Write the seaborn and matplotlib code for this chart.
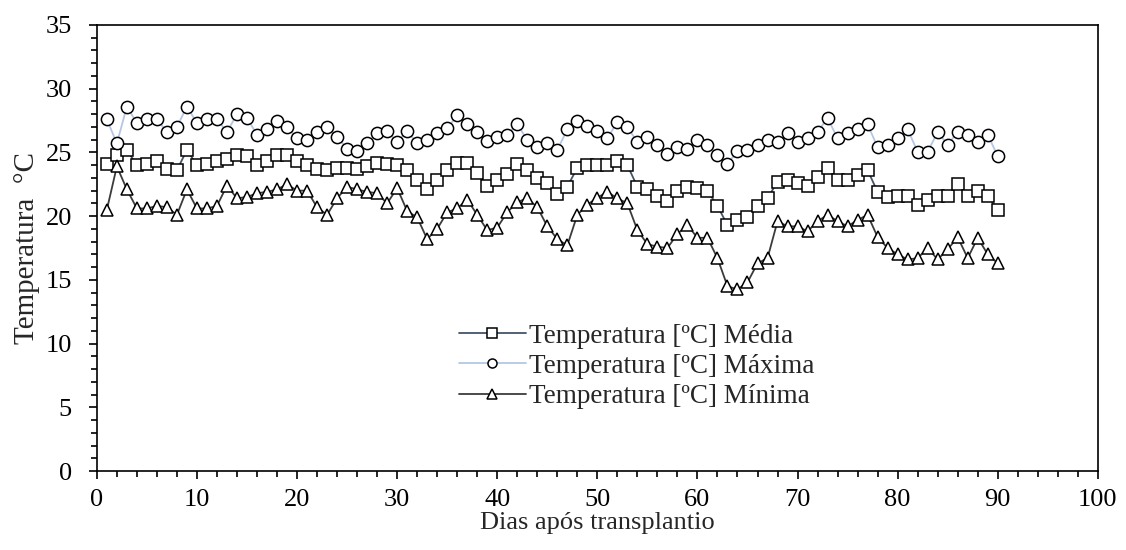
import numpy as np
import pandas as pd
import matplotlib
matplotlib.use("Agg")
import matplotlib.pyplot as plt
import seaborn as sns
from matplotlib.ticker import MultipleLocator

days = list(range(1, 91))

t_media = [24.1, 24.8, 25.2, 24.0, 24.1, 24.3, 23.7, 23.6, 25.2, 24.0,
           24.1, 24.3, 24.5, 24.8, 24.7, 24.0, 24.3, 24.8, 24.8, 24.3,
           24.0, 23.7, 23.6, 23.8, 23.8, 23.7, 23.9, 24.2, 24.1, 24.0,
           23.6, 22.8, 22.1, 22.8, 23.6, 24.2, 24.2, 23.4, 22.4, 22.8,
           23.3, 24.1, 23.6, 23.0, 22.6, 21.7, 22.3, 23.8, 24.0, 24.0,
           24.0, 24.3, 24.0, 22.3, 22.1, 21.55, 21.2, 22.0, 22.3, 22.2,
           22.0, 20.8, 19.3, 19.7, 19.9, 20.8, 21.4, 22.7, 22.8, 22.6,
           22.4, 23.1, 23.8, 22.8, 22.8, 23.2, 23.6, 21.9, 21.5, 21.6,
           21.6, 20.9, 21.3, 21.55, 21.55, 22.5, 21.55, 22.0, 21.6, 20.5]

t_maxima = [27.6, 25.7, 28.6, 27.3, 27.6, 27.6, 26.6, 27.0, 28.6, 27.3,
            27.6, 27.6, 26.6, 28.0, 27.7, 26.4, 26.8, 27.5, 27.0, 26.1,
            26.0, 26.6, 27.0, 26.2, 25.3, 25.1, 25.7, 26.5, 26.7, 25.8,
            26.7, 25.7, 26.0, 26.5, 26.9, 27.9, 27.2, 26.6, 25.9, 26.2,
            26.4, 27.2, 26.0, 25.4, 25.7, 25.2, 26.8, 27.5, 27.1, 26.7,
            26.1, 27.4, 27.0, 25.8, 26.2, 25.6, 24.9, 25.4, 25.3, 26.0,
            25.6, 24.8, 24.1, 25.1, 25.2, 25.6, 26.0, 25.8, 26.5, 25.8,
            26.1, 26.6, 27.7, 26.1, 26.5, 26.8, 27.2, 25.4, 25.6, 26.1,
            26.8, 25.05, 25.05, 26.6, 25.6, 26.6, 26.4, 25.8, 26.4, 24.7]

t_minima = [20.5, 23.9, 22.1, 20.6, 20.6, 20.8, 20.7, 20.1, 22.1, 20.6,
            20.6, 20.8, 22.4, 21.4, 21.5, 21.8, 21.9, 22.1, 22.5, 22.0,
            22.0, 20.7, 20.1, 21.4, 22.3, 22.1, 21.9, 21.8, 21.0, 22.2,
            20.4, 19.9, 18.2, 19.0, 20.3, 20.6, 21.3, 20.1, 18.9, 19.1,
            20.3, 21.1, 21.4, 20.7, 19.2, 18.2, 17.7, 20.1, 20.9, 21.45,
            21.9, 21.4, 21.0, 18.9, 17.8, 17.6, 17.5, 18.6, 19.3, 18.3,
            18.3, 16.7, 14.5, 14.25, 14.8, 16.3, 16.7, 19.6, 19.2, 19.2,
            18.8, 19.6, 20.1, 19.6, 19.2, 19.7, 20.1, 18.35, 17.5, 17.0,
            16.6, 16.7, 17.5, 16.6, 17.4, 18.35, 16.7, 18.3, 17.0, 16.3]

labels = ["Temperatura [ºC] Média", "Temperatura [ºC] Máxima", "Temperatura [ºC] Mínima"]
x_ticks = [0, 10, 20, 30, 40, 50, 60, 70, 80, 90, 100]
y_ticks = [0, 5, 10, 15, 20, 25, 30, 35]

sns.set_theme(style="white")
plt.rcParams['font.family'] = ['Liberation Serif', 'DejaVu Serif']

fig = plt.figure(figsize=(11.26, 5.5), dpi=100)
ax = fig.add_axes([0.086, 0.1436, 0.889, 0.811])

series = [
    (t_media, labels[0], "s", "#44546A"),
    (t_maxima, labels[1], "o", "#B4C7E7"),
    (t_minima, labels[2], "^", "#3B3B3B"),
]
for vals, lab, mk, col in series:
    df = pd.DataFrame({"Dia": days, "T": vals})
    sns.lineplot(data=df, x="Dia", y="T", ax=ax, color=col, linewidth=1.3,
                 marker=mk, markersize=8.8, markerfacecolor="white",
                 markeredgecolor="black", markeredgewidth=1.1, label=lab)

ax.set_xlim(0, 100)
ax.set_ylim(0, 35)
ax.set_xticks(x_ticks)
ax.set_yticks(y_ticks)
ax.xaxis.set_minor_locator(MultipleLocator(2))
ax.yaxis.set_minor_locator(MultipleLocator(1))
ax.tick_params(axis="both", which="major", direction="out", length=6, width=1.2,
               colors="black", labelsize=19, bottom=True, left=True)
ax.tick_params(axis="both", which="minor", direction="out", length=4, width=1.2,
               colors="black", left=True, bottom=True)
ax.tick_params(axis="x", which="major", pad=7)
ax.tick_params(axis="y", which="major", pad=12)
for sp in ax.spines.values():
    sp.set_color("black")
    sp.set_linewidth(1.2)

ax.set_xlabel("Dias após transplantio", fontsize=19, labelpad=1)
ax.set_ylabel("Temperatura  °C", fontsize=21, labelpad=4)

leg = ax.legend(loc="upper left", bbox_to_anchor=(0.362, 0.33), frameon=False,
                fontsize=19.5, handlelength=2.45, handletextpad=0.12,
                labelspacing=0.19, borderaxespad=0, borderpad=0)
for h in leg.legend_handles:
    h.set_markersize(6.5)

fig.savefig("out.png", dpi=100)
